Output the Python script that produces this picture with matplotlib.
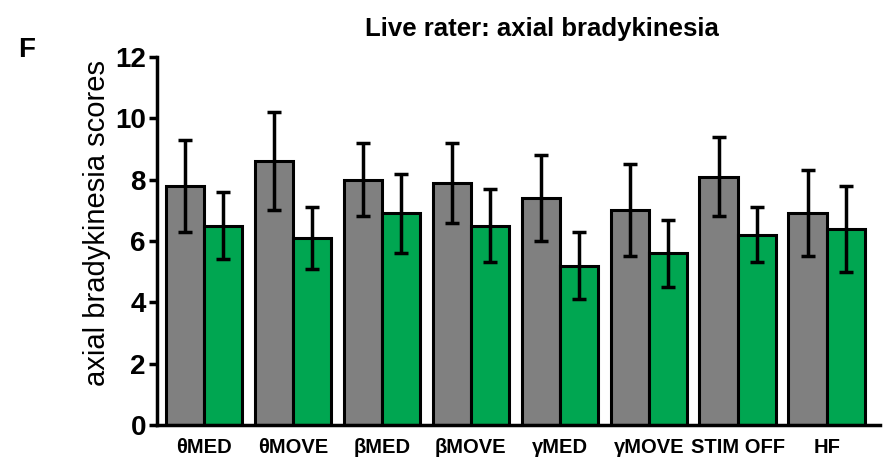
import matplotlib
matplotlib.use("Agg")
import matplotlib.pyplot as plt
import numpy as np

plt.rcParams['font.family'] = ['Liberation Sans', 'DejaVu Sans']

categories = ["θMED", "θMOVE", "βMED", "βMOVE", "γMED", "γMOVE", "STIM OFF", "HF"]
grey_vals = [7.8, 8.6, 8.0, 7.9, 7.4, 7.0, 8.1, 6.9]
grey_err = [1.5, 1.6, 1.2, 1.3, 1.4, 1.5, 1.3, 1.4]
green_vals = [6.5, 6.1, 6.9, 6.5, 5.2, 5.6, 6.2, 6.4]
green_err = [1.1, 1.0, 1.3, 1.2, 1.1, 1.1, 0.9, 1.4]
yticks = [0, 2, 4, 6, 8, 10, 12]

fig = plt.figure(figsize=(8.9, 4.76), dpi=100)
ax = fig.add_axes([0.1764, 0.1071, 0.8124, 0.7732])

x = np.arange(len(categories))
w = 0.43
ekw = dict(elinewidth=2.5, capsize=5, capthick=2.5, ecolor='black')
ax.bar(x - w/2, grey_vals, w, color='#808080', edgecolor='black', linewidth=2.2,
       yerr=grey_err, error_kw=ekw, zorder=2)
ax.bar(x + w/2, green_vals, w, color='#00a651', edgecolor='black', linewidth=2.2,
       yerr=green_err, error_kw=ekw, zorder=2)

ax.set_xlim(-0.53, 7.6)
ax.set_ylim(0, 12)
ax.set_yticks(yticks)
ax.set_yticklabels([str(v) for v in yticks], fontsize=20, fontweight='bold')
ax.set_xticks(x)
ax.set_xticklabels(categories, fontsize=14.5, fontweight='bold')
ax.tick_params(axis='x', length=0, pad=9)
ax.tick_params(axis='y', length=6, width=2.5, pad=2)
for s in ['top', 'right']:
    ax.spines[s].set_visible(False)
for s in ['left', 'bottom']:
    ax.spines[s].set_linewidth(2.5)

ax.set_ylabel("axial bradykinesia scores", fontsize=21)
ax.yaxis.set_label_coords(-0.063, 0.55)
ax.set_title("Live rater: axial bradykinesia", fontsize=18.5, fontweight='bold',
             pad=15, x=0.533)
fig.text(0.02, 0.895, "F", fontsize=20, fontweight='bold', ha='left', va='center')

fig.savefig("out.png", dpi=100)
